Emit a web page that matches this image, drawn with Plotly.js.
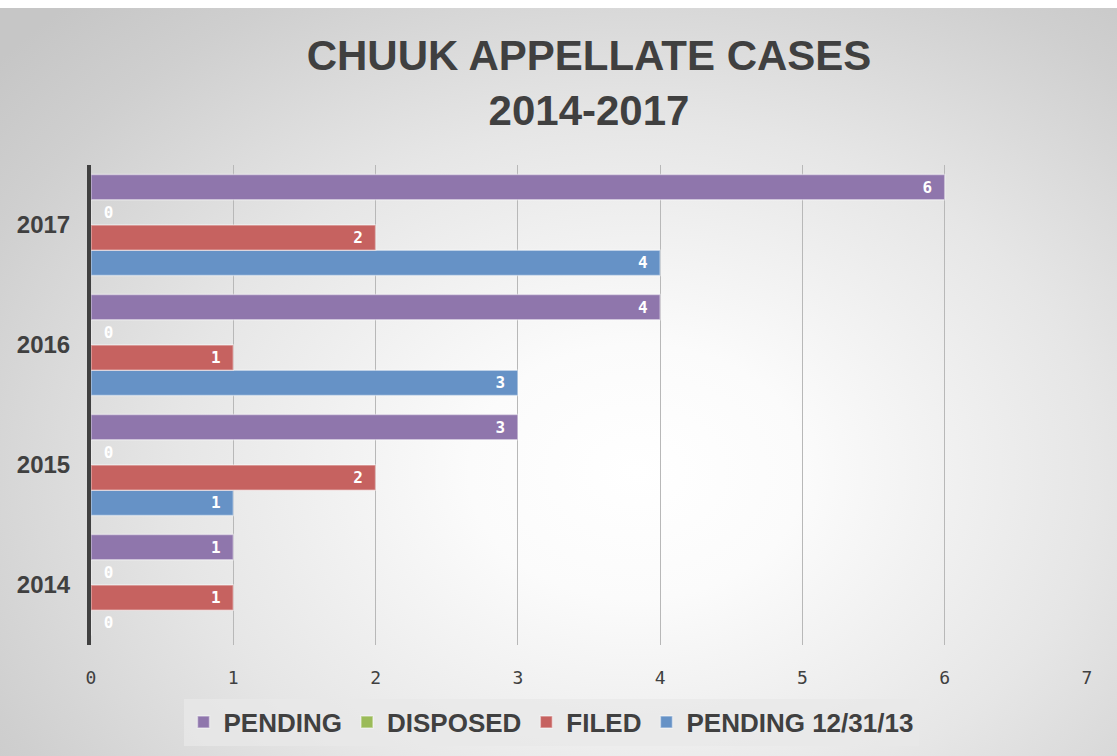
<!DOCTYPE html>
<html>
<head>
<meta charset="utf-8">
<script src="https://cdn.plot.ly/plotly-3.0.1.min.js"></script>
<style>
  html, body { margin: 0; padding: 0; background: #ffffff; }
  #bg { position: absolute; left: 0; top: 8px; width: 1117px; height: 748px;
        background: radial-gradient(ellipse 75% 85% at 57% 62%, #ffffff 0%, #fbfbfb 20%, #e6e6e6 55%, #cfcfcf 85%, #c6c6c6 100%); }
  #chart { position: absolute; left: 0; top: 0; width: 1117px; height: 756px; }
</style>
</head>
<body>
<div id="bg"></div>
<div id="chart"></div>
<script>
const years = ['2014', '2015', '2016', '2017'];
const pending = [1, 3, 4, 6];
const disposed = [0, 0, 0, 0];
const filed = [1, 2, 1, 2];
const pending1231 = [0, 1, 3, 4];
const xTicks = [0, 1, 2, 3, 4, 5, 6, 7];

const NB = '\u00a0';
function mk(name, vals, color) {
  const f = { color: '#ffffff', size: 16, family: 'DejaVu Sans Mono', weight: 'bold' };
  return {
    type: 'bar', orientation: 'h', name: name,
    y: years, x: vals,
    text: vals.map(v => v === 0 ? NB + String(v) : String(v) + NB),
    textposition: vals.map(v => v === 0 ? 'outside' : 'inside'),
    insidetextanchor: 'end',
    textangle: 0,
    textfont: f, outsidetextfont: f, insidetextfont: f,
    constraintext: 'none',
    cliponaxis: false,
    marker: { color: color, line: { color: 'rgba(255,255,255,0.45)', width: 1.5 } },
    hoverinfo: 'x+name'
  };
}

const data = [
  mk('PENDING 12/31/13', pending1231, 'rgba(102,146,198,1)'),
  mk('FILED', filed, 'rgba(198,98,96,1)'),
  mk('DISPOSED', disposed, 'rgba(155,187,89,1)'),
  mk('PENDING', pending, 'rgba(143,118,172,1)')
];

const layout = {
  width: 1117, height: 756,
  paper_bgcolor: 'rgba(0,0,0,0)', plot_bgcolor: 'rgba(0,0,0,0)',
  margin: { l: 91, r: 30, t: 165, b: 111 },
  title: {
    text: '<b>CHUUK APPELLATE CASES<br>2014-2017</b>',
    font: { family: 'Liberation Sans, Arial, sans-serif', size: 42, color: '#404040' },
    x: 0.5, xref: 'paper', xanchor: 'center',
    y: 1 - 70 / 756, yref: 'container', yanchor: 'top'
  },
  barmode: 'group', bargap: 0.16, bargroupgap: 0,
  xaxis: {
    range: [0, 7], tickvals: xTicks, ticktext: xTicks.map(String),
    showgrid: true, gridcolor: '#b8b8b8', gridwidth: 1.2,
    zeroline: false, showline: false, ticks: '',
    ticklabelstandoff: 20,
    tickfont: { family: 'DejaVu Sans Mono', size: 18, color: '#404040' }
  },
  yaxis: {
    type: 'category', categoryorder: 'array', categoryarray: years,
    range: [-0.5, 3.5],
    showline: true, linecolor: '#404040', linewidth: 4,
    showgrid: false, zeroline: false, ticks: '',
    ticklabelstandoff: 12,
    tickfont: { family: 'Liberation Sans, Arial, sans-serif', size: 24, color: '#404040', weight: 'bold' }
  },
  legend: {
    orientation: 'h', traceorder: 'reversed',
    xref: 'container', yref: 'container',
    x: 551 / 1117, xanchor: 'center',
    y: 1 - 722 / 756, yanchor: 'middle',
    bgcolor: 'rgba(232,232,232,0.75)',
    font: { family: 'Liberation Sans, Arial, sans-serif', size: 26, color: '#404040', weight: 'bold' },
    itemwidth: 30, itemclick: false
  },
  showlegend: true
};

Plotly.newPlot('chart', data, layout, { displayModeBar: false, staticPlot: true });
</script>
</body>
</html>
